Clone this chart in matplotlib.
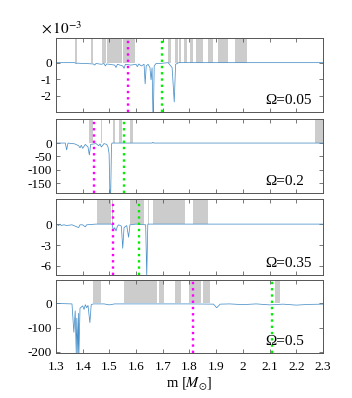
import numpy as np
import matplotlib
matplotlib.use("Agg")
import matplotlib.pyplot as plt

plt.rcParams["font.family"] = ["Liberation Serif", "DejaVu Serif"]
plt.rcParams["mathtext.fontset"] = "stix"

# masses of the two reference lines in each panel
omegas = ["0.05", "0.2", "0.35", "0.5"]
m_magenta = [1.571, 1.443, 1.512, 1.812]
m_green = [1.698, 1.555, 1.611, 2.108]

# shaded mass intervals
gray_1 = [(1.373, 1.377), (1.433, 1.437), (1.472, 1.488), (1.490, 1.513), (1.515, 1.523),
          (1.526, 1.549), (1.551, 1.597), (1.721, 1.731), (1.747, 1.756), (1.762, 1.770),
          (1.780, 1.790), (1.801, 1.813), (1.825, 1.851), (1.869, 1.888), (1.907, 1.944),
          (1.969, 2.016)]
gray_2 = [(1.422, 1.440), (1.467, 1.471), (1.512, 1.522), (1.537, 1.547), (1.577, 1.588),
          (2.270, 2.300)]
gray_3 = [(1.454, 1.506), (1.509, 1.513), (1.577, 1.631), (1.643, 1.650), (1.662, 1.785),
          (1.814, 1.870)]
gray_4 = [(1.437, 1.469), (1.553, 1.678), (1.687, 1.703), (1.746, 1.767), (1.800, 1.845),
          (1.851, 1.877), (2.121, 2.138)]

# curves (panel 1 in units of 1e-3)
m1 = [1.30, 1.37, 1.375, 1.38, 1.40, 1.42, 1.44, 1.445, 1.45, 1.47, 1.48, 1.485, 1.49, 1.50,
      1.52, 1.525, 1.53, 1.55, 1.555, 1.56, 1.58, 1.60, 1.605, 1.61, 1.62, 1.63, 1.634, 1.638,
      1.645, 1.652, 1.656, 1.66, 1.663, 1.665, 1.668, 1.675, 1.69, 1.72, 1.735, 1.743, 1.748,
      1.76, 2.30]
v1 = [0, 0, -0.05, -0.03, -0.05, -0.06, -0.08, -0.15, -0.05, -0.1, -0.05, -0.2, -0.08, -0.1,
      -0.15, -0.3, -0.1, -0.2, -0.35, -0.1, -0.15, -0.1, -0.25, -0.08, -0.2, -0.1, -1.3, -0.2,
      -0.1, -0.3, -1.05, -0.3, -3.0, -3.0, -0.2, -0.05, -0.05, 0, -0.3, -2.4, -0.1, 0, 0]

m2 = [1.30, 1.335, 1.34, 1.345, 1.37, 1.385, 1.39, 1.395, 1.40, 1.41, 1.42, 1.425, 1.43,
      1.45, 1.46, 1.465, 1.47, 1.48, 1.49, 1.495, 1.499, 1.502, 1.505, 1.508, 1.51, 1.66,
      1.663, 1.666, 2.30]
v2 = [0, 0, -26, 0, -3, -10, -18, -8, -20, -5, -15, -45, -5, -2, -10, -3, -15, -2, -5, -15,
      -40, -190, -190, -5, 0, 0, 3, 0, 0]

m3 = [1.30, 1.31, 1.315, 1.32, 1.33, 1.34, 1.36, 1.385, 1.39, 1.40, 1.41, 1.415, 1.45, 1.51,
      1.515, 1.52, 1.525, 1.53, 1.535, 1.545, 1.55, 1.555, 1.565, 1.572, 1.577, 1.60, 1.636,
      1.64, 1.644, 2.30]
v3 = [0, -0.2, 0, -0.2, -0.1, -0.2, -0.1, -0.5, -0.1, -0.1, -0.4, -0.1, 0, 0, -0.9, -0.5,
      -1.0, -0.3, -0.1, -0.3, -3.5, -0.5, -0.2, -1.9, -0.1, 0, -0.1, -7.5, 0, 0]

m4 = [1.30, 1.36, 1.367, 1.372, 1.376, 1.378, 1.382, 1.384, 1.386, 1.39, 1.40, 1.405, 1.41,
      1.415, 1.42, 1.427, 1.432, 1.44, 1.48, 1.50, 1.52, 1.60, 1.80, 1.89, 1.902, 1.915, 1.95,
      2.00, 2.05, 2.10, 2.15, 2.20, 2.25, 2.30]
v4 = [0, -2, -120, -30, -210, -60, -210, -40, -210, -20, -10, -25, -5, -18, -8, -80, -5, -2,
      -2, -6, -2, -2, -2, -3, -18, -3, -2, -5, -2, -6, -3, -7, -4, -3]

curves = [(m1, v1), (m2, v2), (m3, v3), (m4, v4)]
grays = [gray_1, gray_2, gray_3, gray_4]
ylims = [(-3.0, 1.5), (-187, 90), (-7.3, 3.6), (-205, 96)]
yticks = [[0, -1, -2], [0, -50, -100, -150], [0, -3, -6], [0, -100, -200]]
boxes = [(0.7186, 0.186), (0.515, 0.186), (0.309, 0.191), (0.113, 0.183)]

fig = plt.figure(figsize=(3.52, 3.98), dpi=100)
for i in range(4):
    y0, h = boxes[i]
    ax = fig.add_axes([0.159, y0, 0.7585, h])
    lo, hi = ylims[i]
    for a, b in grays[i]:
        ax.fill_between([a, b], 0, hi, color="#cccccc", lw=0)
    m, v = curves[i]
    ax.plot(m, v, color="#4a90c8", lw=0.55, solid_joinstyle="miter")
    ax.axvline(m_magenta[i], color="#ff00ff", ls=":", lw=1.7)
    ax.axvline(m_green[i], color="#00ee00", ls=":", lw=1.7)
    ax.set_xlim(1.3, 2.3)
    ax.set_ylim(lo, hi)
    ax.set_xticks(np.arange(1.3, 2.31, 0.1))
    ax.set_yticks(yticks[i])
    ax.set_yticklabels([str(t) for t in yticks[i]])
    ax.tick_params(direction="in", top=True, right=True, length=3, width=0.5,
                   labelsize=9.5, color="#444444", pad=3)
    ax.tick_params(axis="x", pad=6)
    for s in ax.spines.values():
        s.set_color("#555555")
        s.set_linewidth(0.7)
    ax.text(0.783, 0.07, "Ω=" + omegas[i], transform=ax.transAxes, fontsize=11,
            ha="left", va="bottom")
    if i < 3:
        ax.set_xticklabels([])
    else:
        ax.set_xticklabels(["1.3", "1.4", "1.5", "1.6", "1.7", "1.8", "1.9", "2",
                            "2.1", "2.2", "2.3"])
        ax.set_xlabel(r"m $[M_{\odot}]$", fontsize=10.5, labelpad=1)
    if i == 0:
        ax.text(-0.055, 1.02, r"$\times\,10^{-3}$", transform=ax.transAxes,
                fontsize=11, ha="left", va="bottom")

fig.savefig("out.png", dpi=100)
